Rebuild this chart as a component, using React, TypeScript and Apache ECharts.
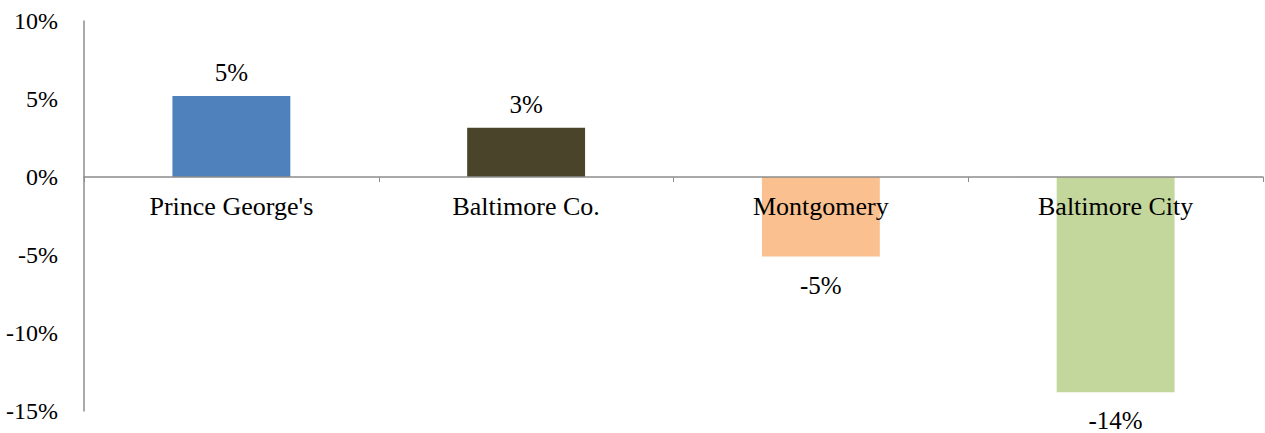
import React, { useEffect, useRef } from "react";
import * as echarts from "echarts";

const categories = ["Prince George's", "Baltimore Co.", "Montgomery", "Baltimore City"];
const values = [5.2, 3.15, -5.1, -13.8];
const colors = ["#4F81BD", "#4A452A", "#FAC090", "#C3D69B"];
const yTicks = { min: -15, max: 10, interval: 5 };

const FONT = "Times New Roman, Liberation Serif, serif";
const GRID = { left: 84, right: 2, top: 21, bottom: 22 };
const HEIGHT = 433;
const WIDTH = 1265;

export default function App() {
  const ref = useRef<HTMLDivElement>(null);
  useEffect(() => {
    document.body.style.margin = "0";
    const chart = echarts.init(ref.current!, undefined, { renderer: "svg" });
    const plotH = HEIGHT - GRID.top - GRID.bottom;
    const zeroFromBottom = (plotH * (0 - yTicks.min)) / (yTicks.max - yTicks.min);
    chart.setOption({
      animation: false,
      backgroundColor: "#ffffff",
      textStyle: { fontFamily: FONT },
      grid: { ...GRID, containLabel: false, outerBoundsMode: "none" },
      xAxis: {
        type: "category",
        data: categories,
        z: 10,
        offset: -zeroFromBottom,
        axisLine: { show: true, onZero: false, lineStyle: { color: "#8c8c8c", width: 1.5 } },
        axisTick: { show: true, length: 5, lineStyle: { color: "#8c8c8c" } },
        axisLabel: { color: "#000", fontFamily: FONT, fontSize: 26, margin: 16, interval: 0, hideOverlap: false },
        splitLine: { show: false },
      },
      yAxis: {
        type: "value",
        min: yTicks.min,
        max: yTicks.max,
        interval: yTicks.interval,
        axisLine: { show: true, lineStyle: { color: "#8c8c8c", width: 1.5 } },
        axisTick: { show: false },
        splitLine: { show: false },
        axisLabel: { color: "#000", fontFamily: FONT, fontSize: 24, margin: 26, formatter: "{value}%" },
      },
      series: [
        {
          type: "bar",
          barWidth: "40%",
          data: values.map((v, i) => ({
            value: v,
            itemStyle: { color: colors[i] },
            label: { position: v >= 0 ? "top" : "bottom", distance: v >= 0 ? 11 : 16 },
          })),
          label: {
            show: true,
            color: "#000",
            fontFamily: FONT,
            fontSize: 25,
            formatter: (p: any) => Math.round(p.value) + "%",
          },
        },
      ],
    });
    return () => chart.dispose();
  }, []);
  return <div ref={ref} style={{ width: WIDTH, height: HEIGHT }} />;
}
